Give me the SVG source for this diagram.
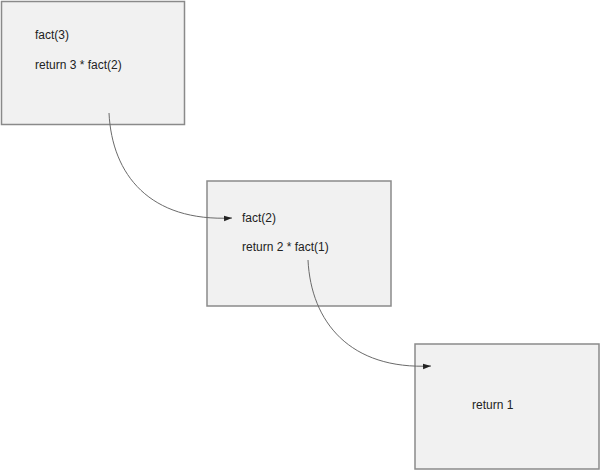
<svg xmlns="http://www.w3.org/2000/svg" width="600" height="470" viewBox="0 0 600 470">
<style>
.box{fill:#f1f1f1;stroke:#8a8a8a;stroke-width:1.5}
.t{font-family:"Liberation Sans",Arial,sans-serif;font-size:12px;fill:#222}
.c{fill:none;stroke:#6a6a6a;stroke-width:1}
</style>
<defs>
<marker id="ah" viewBox="0 0 10 10" refX="10" refY="5" markerWidth="8" markerHeight="8" markerUnits="userSpaceOnUse" orient="auto">
<path d="M0,1.5 L10,5 L0,8.5 Z" fill="#222"/>
</marker>
</defs>
<rect width="600" height="470" fill="#fff"/>
<g id="node1">
<rect class="box" x="1.5" y="1.5" width="183" height="123"/>
<text class="t" x="35" y="39">fact(3)</text>
<text class="t" x="35" y="69">return 3 * fact(2)</text>
</g>
<g id="node2">
<rect class="box" x="207" y="181" width="184" height="125"/>
<text class="t" x="242" y="222">fact(2)</text>
<text class="t" x="242" y="251">return 2 * fact(1)</text>
</g>
<g id="node3">
<rect class="box" x="415" y="344" width="184" height="125"/>
<text class="t" x="472" y="409">return 1</text>
</g>
<g id="connectors">
<path class="c" d="M109,113 C112,175 150,222 232,218" marker-end="url(#ah)"/>
<path class="c" d="M308,260 C311,322 350,370 431,366" marker-end="url(#ah)"/>
</g>
</svg>
